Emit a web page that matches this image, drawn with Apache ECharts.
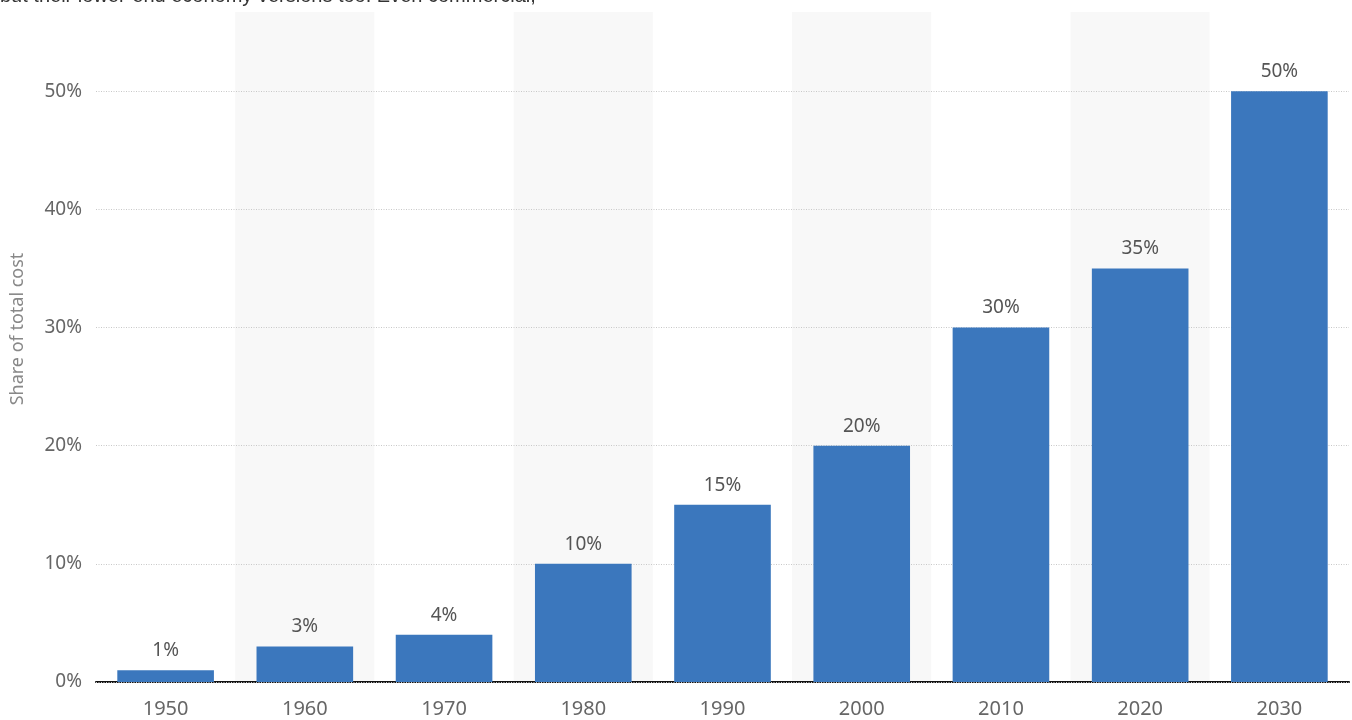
<!DOCTYPE html>
<html>
<head>
<meta charset="utf-8">
<script src="https://cdn.jsdelivr.net/npm/echarts@6/dist/echarts.min.js"></script>
<style>
  html, body { margin: 0; padding: 0; background: #fff; }
  #chart { width: 1352px; height: 720px; }
</style>
</head>
<body>
<div id="chart"></div>
<script>
// decades and share of total cost (%)
const years = ['1950', '1960', '1970', '1980', '1990', '2000', '2010', '2020', '2030']
const shares = [1, 3, 4, 10, 15, 20, 30, 35, 50]
const yTicks = [0, 10, 20, 30, 40, 50]

const chart = echarts.init(document.getElementById('chart'))

chart.setOption({
  animation: false,
  textStyle: { fontFamily: 'Noto Sans' },
  graphic: [
    {
      type: 'text',
      left: 0,
      top: -14,
      style: {
        text: 'but their lower-end economy versions too. Even commercial,',
        font: '20px "Liberation Sans"',
        fill: '#333'
      }
    },
    {
      type: 'text',
      x: 18,
      y: 329,
      rotation: Math.PI / 2,
      style: {
        text: 'Share of total cost',
        font: '18px "Noto Sans"',
        fill: '#888',
        align: 'center',
        verticalAlign: 'middle'
      }
    }
  ],
  grid: { left: 96, right: 3, top: 12, bottom: 38 },
  xAxis: {
    type: 'category',
    data: years,
    axisLine: { lineStyle: { color: '#111', width: 2 } },
    axisTick: { show: false },
    axisLabel: { color: '#666', fontSize: 20, margin: 17 },
    splitArea: { show: true, areaStyle: { color: ['#ffffff', '#f8f8f8'] } }
  },
  yAxis: {
    type: 'value',
    z: 1,
    min: 0,
    max: 56.7,
    interval: 10,
    axisLine: { show: false },
    axisTick: { show: false },
    axisLabel: {
      color: '#666',
      fontSize: 19,
      margin: 14,
      formatter: v => (yTicks.includes(v) ? v + '%' : '')
    },
    splitLine: {
      showMaxLine: false,
      lineStyle: { color: '#c8c8c8', type: [1, 1.5] }
    }
  },
  series: [{
    type: 'bar',
    z: 3,
    data: shares,
    barCategoryGap: '30.6%',
    itemStyle: { color: '#3b77bd' },
    label: {
      show: true,
      position: 'top',
      distance: 10,
      color: '#555',
      fontSize: 19,
      formatter: p => p.value + '%'
    }
  }]
})
</script>
</body>
</html>
